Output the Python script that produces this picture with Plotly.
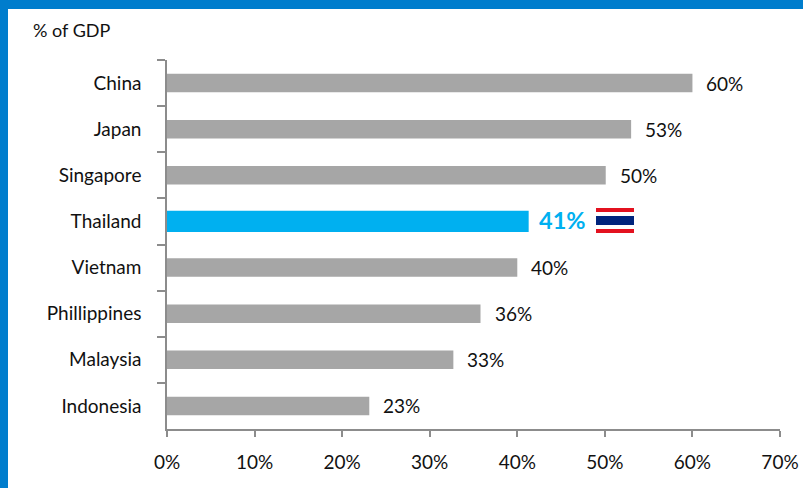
import plotly.graph_objects as go

categories = ["China", "Japan", "Singapore", "Thailand", "Vietnam", "Phillippines", "Malaysia", "Indonesia"]
values = [60, 53, 50.1, 41.3, 40, 35.8, 32.7, 23.1]
labels = ["60%", "53%", "50%", "41%", "40%", "36%", "33%", "23%"]
highlight = "Thailand"
x_ticks = [0, 10, 20, 30, 40, 50, 60, 70]

FONT = "Lato"
W, H = 803, 488
L, R, T, B = 167, 23, 60, 59
pw, ph = W - L - R, H - T - B
GREY, BLUE = "#a6a6a6", "#00b0f0"

fig = go.Figure(go.Bar(
    y=categories, x=values, orientation="h",
    marker=dict(color=[BLUE if c == highlight else GREY for c in categories], line_width=0),
    width=[0.46 if c == highlight else 0.4 for c in categories],
    hoverinfo="skip",
))

for c, v, t in zip(categories, values, labels):
    hi = c == highlight
    fig.add_annotation(
        x=v, y=c, text=f"<b>{t}</b>" if hi else t, showarrow=False,
        xanchor="left", xshift=8 if hi else 12, yshift=1 if hi else 0,
        font=dict(family=FONT, size=23.5 if hi else 19, color=BLUE if hi else "#111111"),
    )

fig.add_annotation(
    xref="paper", yref="paper", x=(33 - L) / pw, y=(H - B - 30) / ph, text="% of GDP", showarrow=False,
    xanchor="left", yanchor="middle", xshift=-2,
    font=dict(family=FONT, size=18, color="#111111"),
)

def px_rect(x0, y0, x1, y1, color):
    """Decoration rectangle given in window pixels, mapped to the paper space."""
    fig.add_shape(type="rect", xref="paper", yref="paper", layer="above", line_width=0, fillcolor=color,
                  x0=(x0 - L) / pw, x1=(x1 - L) / pw, y0=(H - B - y1) / ph, y1=(H - B - y0) / ph)

# page frame
px_rect(0, 0, W, 9, "#007dcd")
px_rect(0, 0, 8, H, "#007dcd")
# Thai flag
px_rect(596, 208, 634, 233, "#ffffff")
px_rect(596, 208, 634, 212, "#e3111f")
px_rect(596, 216, 634, 225, "#00247d")
px_rect(596, 229, 634, 233, "#e3111f")

fig.update_layout(
    width=W, height=H, margin=dict(l=L, r=R, t=T, b=B, autoexpand=False),
    paper_bgcolor="white", plot_bgcolor="white", showlegend=False,
    font=dict(family=FONT, size=19, color="#111111"),
    xaxis=dict(range=[0, 70], tickvals=x_ticks, ticktext=[f"{v}%" for v in x_ticks], automargin=False,
               showgrid=False, zeroline=False, showline=True, linecolor="#8c8c8c", linewidth=1.5,
               ticks="outside", ticklen=6, tickcolor="#8c8c8c", tickwidth=1.5, ticklabelstandoff=9),
    yaxis=dict(autorange="reversed", type="category", tickson="boundaries", showgrid=False, automargin=False,
               zeroline=False, showline=True, linecolor="#8c8c8c", linewidth=1.5,
               ticks="outside", ticklen=8, tickcolor="#8c8c8c", tickwidth=1.5, ticklabelstandoff=20,
               tickfont=dict(size=19)),
)

fig.write_html("out.html", config={"displayModeBar": False},
               post_script="document.body.style.margin='0';document.body.style.overflow='hidden';")
